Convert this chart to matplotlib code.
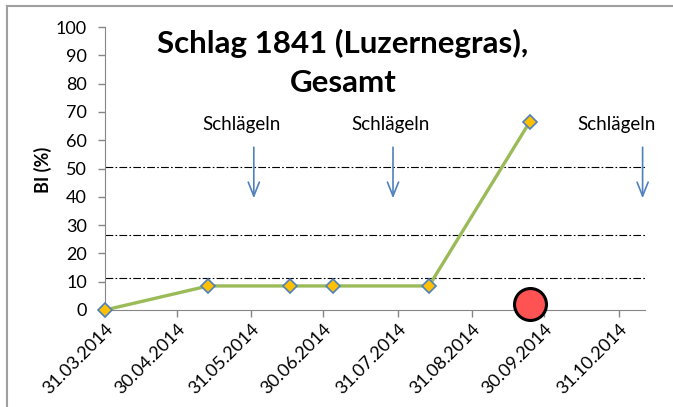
import numpy as np
import pandas as pd
import matplotlib
matplotlib.use("Agg")
import matplotlib.pyplot as plt
import matplotlib.dates as mdates
from matplotlib.lines import Line2D

plt.rcParams["font.family"] = ["Lato", "DejaVu Sans"]

# ── Data ──────────────────────────────────────────────────────────
dates = pd.to_datetime(["2014-03-31", "2014-05-13", "2014-06-16",
                        "2014-07-04", "2014-08-13", "2014-09-24"])
bi_values = [0, 8.5, 8.5, 8.5, 8.5, 66.5]

red_date = pd.to_datetime(["2014-09-24"])
red_value = [2.1]

thresholds = [11.2, 26.5, 50.5]

arrow_dates = pd.to_datetime(["2014-06-01", "2014-07-29", "2014-11-10"])
arrow_top = 58.5
arrow_bottom = 38.5
arrow_label = "Schlägeln"
label_dates = pd.to_datetime(["2014-05-27", "2014-07-28", "2014-10-30"])
label_y = 65.5

tick_dates = pd.to_datetime(["2014-03-31", "2014-04-30", "2014-05-31",
                             "2014-06-30", "2014-07-31", "2014-08-31",
                             "2014-09-30", "2014-10-31"])
x_min, x_max = pd.Timestamp("2014-03-31"), pd.Timestamp("2014-11-11")

GREEN = "#9BBB59"
ORANGE = "#FFC000"
BLUE = "#4F81BD"
GRAY = "#868686"

# ── Figure ────────────────────────────────────────────────────────
fig = plt.figure(figsize=(6.73, 4.07), dpi=100)
ax = fig.add_axes([105 / 673, 1 - 310 / 407, 540 / 673, 283 / 407])

# outer chart border (left + top visible)
fig.add_artist(Line2D([7 / 673, 7 / 673], [0, 1 - 6 / 407],
                      transform=fig.transFigure, color="#A0A0A0", lw=1.5))
fig.add_artist(Line2D([7 / 673, 1], [1 - 6 / 407, 1 - 6 / 407],
                      transform=fig.transFigure, color="#A0A0A0", lw=1.5))

for y in thresholds:
    ax.axhline(y, color="black", lw=0.8, ls=(0, (7, 2, 1.5, 2)), zorder=1)

ax.plot(dates, bi_values, color=GREEN, lw=2.4, marker="D",
        markersize=7, markerfacecolor=ORANGE, markeredgecolor=BLUE,
        markeredgewidth=1.2, zorder=3, clip_on=False)

ax.plot(red_date, red_value, "o", markersize=23, markerfacecolor="#FF5353",
        markeredgecolor="black", markeredgewidth=2.2, zorder=4, clip_on=False)

for d in arrow_dates:
    ax.annotate("", xy=(d, arrow_bottom), xytext=(d, arrow_top),
                arrowprops=dict(arrowstyle="->,head_length=1.0,head_width=0.4",
                                color=BLUE, lw=1.2), zorder=2)
for d in label_dates:
    ax.text(d, label_y, arrow_label, ha="center", va="center", fontsize=13.5)

ax.set_xlim(x_min, x_max)
ax.set_ylim(0, 100)
ax.set_yticks(np.arange(0, 101, 10))
ax.set_xticks(tick_dates)
ax.xaxis.set_major_formatter(mdates.DateFormatter("%d.%m.%Y"))
for lbl in ax.get_xticklabels():
    lbl.set_rotation(45)
    lbl.set_ha("right")
    lbl.set_rotation_mode("anchor")

ax.tick_params(axis="both", colors=GRAY, labelcolor="black",
               labelsize=13, length=5, width=1)
ax.tick_params(axis="y", pad=8)
ax.tick_params(axis="x", pad=3)
for s in ["top", "right"]:
    ax.spines[s].set_visible(False)
for s in ["left", "bottom"]:
    ax.spines[s].set_color(GRAY)

fig.text(43 / 673, 1 - 170 / 407, "BI (%)", rotation=90, ha="center",
         va="center", fontsize=13, fontweight="bold")

fig.text(343 / 673, 1 - 63 / 407, "Schlag 1841 (Luzernegras),\nGesamt",
         ha="center", va="center", fontsize=22.5, fontweight="bold",
         linespacing=1.45)

fig.savefig("out.png", dpi=100)
